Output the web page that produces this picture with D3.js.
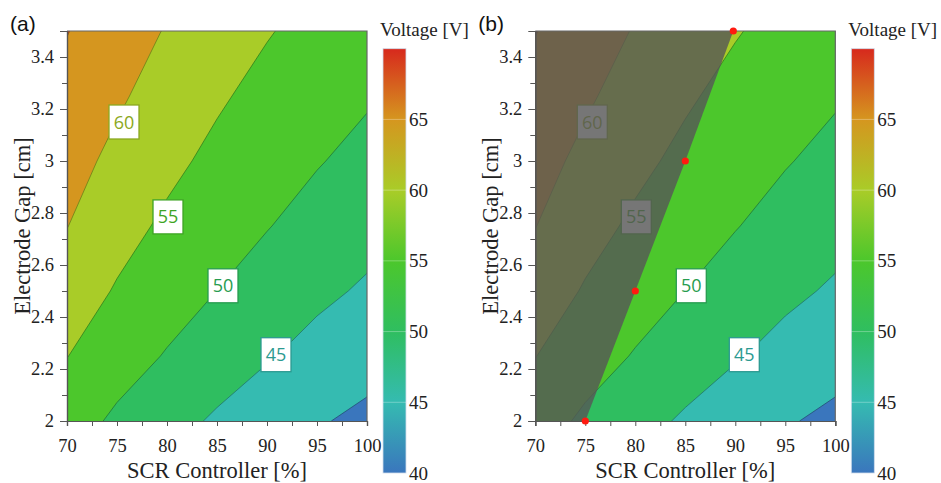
<!DOCTYPE html>
<html>
<head>
<meta charset="utf-8">
<script src="https://cdn.jsdelivr.net/npm/d3@7"></script>
<style>
	body { margin: 0; background: #fff; }
	svg text { font-family: 'Liberation Serif', serif; }
	.axis path, .axis line { stroke: #555; }
	.axis text { font-size: 18.5px; fill: #222; font-family: 'Liberation Serif', serif; }
</style>
</head>
<body>
<script>
// grid the response surface was read on
const scrSteps = [ 70, 75, 80, 85, 90, 95, 100 ];
const gapSteps = [ 2, 2.25, 2.5, 2.75, 3, 3.25, 3.5 ];
// voltage [V]: one row per gap step (2 cm first), one column per SCR step
const voltage = [
	[ 52.1, 49.2, 46.6, 44.4, 42.1, 40.4, 39.0 ],
	[ 55.1, 52.0, 49.7, 47.3, 45.4, 43.4, 41.7 ],
	[ 57.6, 54.6, 52.0, 49.98, 47.8, 46.0, 44.4 ],
	[ 60.1, 56.7, 54.2, 51.9, 50.2, 48.2, 46.6 ],
	[ 61.8, 58.8, 56.1, 53.9, 51.9, 50.3, 48.6 ],
	[ 63.5, 60.7, 57.9, 55.6, 53.6, 51.9, 50.5 ],
	[ 65.15, 62.3, 59.7, 57.4, 55.3, 53.5, 52.0 ]
];
const levels = [ 40, 45, 50, 55, 60, 65 ];

// colour bar
const colorValues = [ 40, 45, 50, 55, 60, 65, 70 ];
const colorHex = [ '#3a76bd', '#35bbb1', '#2fbe60', '#4cc72c', '#a9cc28', '#d5961f', '#d7291d' ];
const colorTicks = [ 40, 45, 50, 55, 60, 65 ];

// axis ticks
const xTicks = [ 70, 75, 80, 85, 90, 95, 100 ];
const xMinor = [ 72.5, 77.5, 82.5, 87.5, 92.5, 97.5 ];
const yTicks = [ 2, 2.2, 2.4, 2.6, 2.8, 3, 3.2, 3.4 ];
const yMinor = [ 2.1, 2.3, 2.5, 2.7, 2.9, 3.1, 3.3, 3.5 ];

// inline contour labels
const labelLevels = [ 60, 55, 50, 45 ];
const labelScr = [ 75.7, 80.1, 85.6, 90.9 ];
const labelGap = [ 3.15, 2.785, 2.52, 2.255 ];

// operating line drawn in (b)
const optScr = [ 75, 80, 85, 89.8 ];
const optGap = [ 2, 2.5, 3, 3.5 ];

// svg params
const svgW = 941;
const svgH = 483;
const plotW = 300;
const plotH = 390;
const plotTop = 31;

const svg = d3.select('body').append('svg').attr('width', svgW).attr('height', svgH);
const color = d3.scaleLinear().domain(colorValues).range(colorHex);
const contours = d3.contours().size([ scrSteps.length, gapSteps.length ]).thresholds(levels)(voltage.flat());

const drawPanel = (left, tag, shaded) => {
	const x = d3.scaleLinear().domain([ 70, 100 ]).range([ left, left + plotW ]);
	const y = d3.scaleLinear().domain([ 2, 3.5 ]).range([ plotTop + plotH, plotTop ]);

	// contour grid index -> page (d3.contours puts cell values at i + 0.5)
	const gx = d3.scaleLinear().domain([ 0.5, scrSteps.length - 0.5 ]).range([ x(scrSteps[0]), x(scrSteps[scrSteps.length - 1]) ]);
	const gy = d3.scaleLinear().domain([ 0.5, gapSteps.length - 0.5 ]).range([ y(gapSteps[0]), y(gapSteps[gapSteps.length - 1]) ]);
	const path = d3.geoPath(d3.geoTransform({
		point: function(px, py) {
			this.stream.point(gx(px), gy(py));
		}
	}));

	svg.append('clipPath').attr('id', 'clip-' + tag).append('rect')
		.attr('x', left).attr('y', plotTop).attr('width', plotW).attr('height', plotH);
	const g = svg.append('g').attr('clip-path', 'url(#clip-' + tag + ')');

	/*
		filled bands
	*/
	g.append('rect').attr('x', left).attr('y', plotTop).attr('width', plotW).attr('height', plotH)
		.attr('fill', color(levels[0]));
	g.selectAll('path.band').data(contours).join('path')
		.attr('class', 'band')
		.attr('d', path)
		.attr('fill', (d) => color(d.value + 5));
	g.selectAll('path.iso').data(contours).join('path')
		.attr('class', 'iso')
		.attr('d', path)
		.attr('fill', 'none')
		.attr('stroke', (d) => d3.color(color(d.value)).darker(1.4))
		.attr('stroke-opacity', 0.75)
		.attr('stroke-width', 1);

	/*
		labels
	*/
	labelLevels.forEach((lv, i) => {
		const c = d3.color(color(lv)).darker(0.55);
		const cx = x(labelScr[i]);
		const cy = y(labelGap[i]);
		g.append('rect').attr('x', cx - 15).attr('y', cy - 17).attr('width', 30).attr('height', 34)
			.attr('fill', '#fff').attr('stroke', c).attr('stroke-width', 1.3);
		g.append('text').attr('x', cx).attr('y', cy + 6.5).attr('text-anchor', 'middle')
			.style('font-family', "'Open Sans', sans-serif").style('font-size', '18px')
			.attr('fill', c).text(lv);
	});

	/*
		shaded region left of the operating line
	*/
	if (shaded) {
		const pts = optScr.map((s, i) => [ s, optGap[i] ]);
		pts.push([ x.domain()[0], y.domain()[1] ], [ x.domain()[0], y.domain()[0] ]);
		g.append('path')
			.attr('d', d3.line().x((d) => x(d[0])).y((d) => y(d[1]))(pts) + 'Z')
			.attr('fill', 'rgb(86,86,86)')
			.attr('fill-opacity', 0.81);
	}

	// frame
	svg.append('path')
		.attr('d', 'M' + x(70) + ',' + y(3.5) + 'H' + x(100) + 'V' + y(2))
		.attr('fill', 'none').attr('stroke', '#666').attr('stroke-width', 1.2);

	//axis
	svg.append('g').attr('class', 'axis').attr('transform', 'translate(0,' + y(2) + ')')
		.call(d3.axisBottom(x).tickValues(xMinor).tickSize(5).tickFormat(''));
	svg.append('g').attr('class', 'axis').attr('transform', 'translate(0,' + y(2) + ')')
		.call(d3.axisBottom(x).tickValues(xTicks).tickSize(5).tickPadding(13));
	svg.append('g').attr('class', 'axis').attr('transform', 'translate(' + x(70) + ',0)')
		.call(d3.axisLeft(y).tickValues(yMinor).tickSize(5).tickFormat(''));
	svg.append('g').attr('class', 'axis').attr('transform', 'translate(' + x(70) + ',0)')
		.call(d3.axisLeft(y).tickValues(yTicks).tickSize(7).tickPadding(6).tickFormat((d) => +d.toFixed(1)));
	svg.selectAll('.axis path.domain').attr('stroke-width', 1.2);

	if (shaded) {
		svg.selectAll('circle.opt-' + tag).data(optScr).join('circle')
			.attr('class', 'opt-' + tag)
			.attr('cx', (d) => x(d))
			.attr('cy', (d, i) => y(optGap[i]))
			.attr('r', 3.6)
			.attr('fill', '#ff1a10');
	}

	// axis titles
	svg.append('text').attr('x', left + plotW / 2).attr('y', 478).attr('text-anchor', 'middle')
		.style('font-size', '22.5px').attr('fill', '#222').text('SCR Controller [%]');
	svg.append('text').attr('transform', 'translate(' + (left - 45) + ',' + (plotTop + plotH / 2) + ') rotate(-90)')
		.attr('dy', '0.35em').attr('text-anchor', 'middle')
		.style('font-size', '22.5px').attr('fill', '#222').text('Electrode Gap [cm]');

	svg.append('text').attr('x', left - 57).attr('y', 31)
		.style('font-family', "'Liberation Sans', sans-serif").style('font-size', '21px').attr('fill', '#111')
		.text('(' + tag + ')');

	/*
		colour bar
	*/
	const barX = left + 316;
	const barW = 23;
	const cbar = d3.scaleLinear().domain([ 40, 70 ]).range([ 473, 48.7 ]);
	const grad = svg.append('defs').append('linearGradient').attr('id', 'grad-' + tag)
		.attr('x1', 0).attr('y1', 1).attr('x2', 0).attr('y2', 0);
	grad.selectAll('stop').data(colorValues).join('stop')
		.attr('offset', (d) => (d - 40) / 30)
		.attr('stop-color', (d) => color(d));
	svg.append('rect').attr('x', barX).attr('y', cbar(70)).attr('width', barW).attr('height', cbar(40) - cbar(70))
		.attr('fill', 'url(#grad-' + tag + ')').attr('stroke', '#cfdcec').attr('stroke-width', 0.8);
	svg.selectAll('line.sep-' + tag).data(colorTicks.slice(1)).join('line')
		.attr('class', 'sep-' + tag)
		.attr('x1', barX).attr('x2', barX + barW)
		.attr('y1', (d) => cbar(d)).attr('y2', (d) => cbar(d))
		.attr('stroke', '#fff').attr('stroke-opacity', 0.3);
	const cax = svg.append('g').attr('class', 'axis').attr('transform', 'translate(' + (barX + barW) + ',0)')
		.call(d3.axisRight(cbar).tickValues(colorTicks).tickSize(0).tickPadding(3));
	cax.select('.domain').remove();
	cax.selectAll('text').style('font-size', '19px');
	svg.append('text').attr('x', barX - 3).attr('y', 36)
		.style('font-size', '19px').attr('fill', '#222').text('Voltage [V]');
};

drawPanel(67, 'a', false);
drawPanel(535.3, 'b', true);
</script>
</body>
</html>
